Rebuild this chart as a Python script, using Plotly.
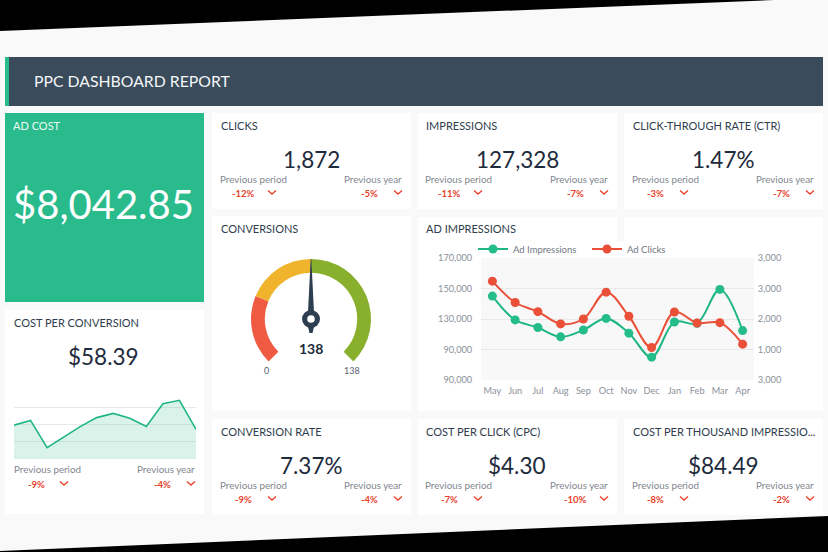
import plotly.graph_objects as go

W, H = 828, 552
FONT = "Lato"
GREEN = "#2abb8d"
LINE_GREEN = "#1fb684"
RED = "#ea4f37"
DELTA_RED = "#e8412a"
DARK = "#2f3d4d"
NUM = "#1d2b3d"
GREY = "#7f8790"
BG = "#f9f9f9"

months = ["May", "Jun", "Jul", "Aug", "Sep", "Oct", "Nov", "Dec", "Jan", "Feb", "Mar", "Apr"]
ad_impressions = [145000, 129400, 124400, 118300, 122800, 130400, 120700, 105000, 128000, 127200, 149400, 122400]
ad_clicks = [3240, 2540, 2240, 1840, 2000, 2880, 2090, 1065, 2230, 1870, 1880, 1175]
left_tick_vals = [90000, 110000, 130000, 150000, 170000]
left_tick_text = ["90,000", "90,000", "130,000", "150,000", "170,000"]
right_tick_vals = [0, 1000, 2000, 3000, 4000]
right_tick_text = ["3,000", "1,000", "2,000", "3,000", "3,000"]

cost_per_conv = [49, 56, 16.4, 32, 47, 60, 66, 59, 47, 80, 85, 43]
gauge_labels = ["low", "mid", "high", "rest"]
gauge_values = [34.5, 34.5, 69, 46]
gauge_colors = ["#ee5b42", "#f0b32c", "#89b02c", "rgba(0,0,0,0)"]

kpi_titles = ["CLICKS", "IMPRESSIONS", "CLICK-THROUGH RATE (CTR)",
              "CONVERSION RATE", "COST PER CLICK (CPC)", "COST PER THOUSAND IMPRESSIO..."]
kpi_values = ["1,872", "127,328", "1.47%", "7.37%", "$4.30", "$84.49"]
kpi_prev_period = ["-12%", "-11%", "-3%", "-9%", "-7%", "-8%"]
kpi_prev_year = ["-5%", "-7%", "-7%", "-4%", "-10%", "-2%"]
kpi_left = [212, 418, 624, 212, 418, 624]
kpi_top = [113, 113, 113, 419, 419, 419]


def px(x):
    return x / W


def py(y):
    return 1 - y / H


shapes = []
annotations = []


def rect(x0, y0, x1, y1, color, layer="below"):
    shapes.append(dict(type="rect", xref="paper", yref="paper", x0=px(x0), x1=px(x1),
                       y0=py(y1), y1=py(y0), fillcolor=color, line_width=0, layer=layer))


def text(x, y, s, size=10, color=DARK, anchor="left", weight="normal"):
    annotations.append(dict(xref="paper", yref="paper", x=px(x), y=py(y), text=s, showarrow=False,
                            xanchor=anchor, yanchor="middle", borderpad=0,
                            font=dict(family=FONT, size=size, color=color, weight=weight)))


def path_shape(points, stroke=None, fill=None, width=1.3, close=False):
    d = "M " + " L ".join(f"{px(a):.5f},{py(b):.5f}" for a, b in points) + (" Z" if close else "")
    shapes.append(dict(type="path", xref="paper", yref="paper", path=d, layer="above",
                       fillcolor=fill if fill else "rgba(0,0,0,0)",
                       line=dict(color=stroke if stroke else "rgba(0,0,0,0)", width=width if stroke else 0)))


def chevron(cx, cy):
    path_shape([(cx - 4, cy - 2), (cx, cy + 1.6), (cx + 4, cy - 2)], stroke=DELTA_RED)


def deltas(left, y_prev, y_delta, a, b):
    text(left + 6.5, y_prev, "Previous period", 9.8, GREY)
    text(left + 191, y_prev, "Previous year", 9.8, GREY, "right")
    text(left + 31, y_delta, a, 9.5, DELTA_RED, "center", "bold")
    chevron(left + 60, y_delta - 0.5)
    text(left + 157, y_delta, b, 9.5, DELTA_RED, "center", "bold")
    chevron(left + 186, y_delta - 0.5)


# page background polygon
shapes.append(dict(type="path", xref="paper", yref="paper", layer="below", fillcolor=BG, line_width=0,
                   path=f"M {px(0)},{py(31)} L {px(774)},{py(0)} L {px(828)},{py(0)} L {px(828)},{py(516)} L {px(0)},{py(551)} Z"))
# header
rect(5, 57, 823, 106, "#3a4b5b")
rect(5, 57, 9, 106, GREEN)
text(32.5, 81, "PPC DASHBOARD REPORT", 15.8, "#f4f6f7")
# ad cost
rect(5, 113, 204, 302, GREEN)
text(11.5, 125.5, "AD COST", 11, "#eafaf4")
text(103, 204, "$8,042.85", 40, "#ffffff", "center")

# kpi cards
for i in range(6):
    L, T = kpi_left[i], kpi_top[i]
    rect(L, T, L + 199, T + 96, "#ffffff")
    text(L + 7.5, T + 12.5, kpi_titles[i], 11)
    text(L + 99, T + 46, kpi_values[i], 22.5, NUM, "center")
    deltas(L, T + 65.5, T + 80, kpi_prev_period[i], kpi_prev_year[i])

# conversions card
rect(212, 216, 411, 411, "#ffffff")
text(219.5, 228.5, "CONVERSIONS", 11)
text(311, 348, "138", 14, NUM, "center", "bold")
text(266, 370.5, "0", 9, "#55606c", "center")
text(352, 370.5, "138", 9, "#55606c", "center")

# needle
needle = "#2d3e50"
path_shape([(310.7, 259), (311.3, 259), (314, 312), (308, 312)], fill=needle, close=True)
path_shape([(307.5, 325), (314.5, 325), (312.5, 333), (309.5, 333)], fill=needle, close=True)
shapes.append(dict(type="circle", xref="paper", yref="paper", layer="above",
                   x0=px(302), x1=px(320), y0=py(328), y1=py(310), fillcolor=needle, line_width=0))
shapes.append(dict(type="circle", xref="paper", yref="paper", layer="above",
                   x0=px(307.2), x1=px(314.8), y0=py(322.8), y1=py(315.2), fillcolor="#ffffff", line_width=0))

# ad impressions card
rect(418, 217, 823, 411, "#ffffff")
rect(617, 215, 624, 241, BG)
text(425.5, 228.5, "AD IMPRESSIONS", 11)
rect(481, 258, 754, 380, "#f8f8f8")

# cost per conversion card
rect(5, 310, 204, 514, "#ffffff")
text(12.5, 322.5, "COST PER CONVERSION", 11)
text(103, 356, "$58.39", 22.5, NUM, "center")
text(12.5, 469.5, "Previous period", 9.8, GREY)
text(196, 469.5, "Previous year", 9.8, GREY, "right")
text(36, 484, "-9%", 9.5, DELTA_RED, "center", "bold")
chevron(64, 483.5)
text(162, 484, "-4%", 9.5, DELTA_RED, "center", "bold")
chevron(191, 483.5)

fig = go.Figure()
fig.add_trace(go.Scatter(x=months, y=ad_impressions, name="Ad Impressions", mode="lines+markers",
                         line=dict(color=LINE_GREEN, width=2, shape="spline", smoothing=1),
                         marker=dict(color="#25bc8b", size=9), xaxis="x", yaxis="y"))
fig.add_trace(go.Scatter(x=months, y=ad_clicks, name="Ad Clicks", mode="lines+markers",
                         line=dict(color=RED, width=2, shape="spline", smoothing=1),
                         marker=dict(color=RED, size=9), xaxis="x", yaxis="y2"))
fig.add_trace(go.Scatter(x=months, y=cost_per_conv, mode="lines", fill="tozeroy", fillcolor="rgba(31,182,132,0.17)",
                         line=dict(color=LINE_GREEN, width=1.6), showlegend=False, xaxis="x2", yaxis="y3"))
fig.add_trace(go.Pie(labels=gauge_labels, values=gauge_values, sort=False, direction="clockwise", rotation=-135,
                     hole=0.77, textinfo="none", showlegend=False, hoverinfo="skip",
                     marker=dict(colors=gauge_colors, line=dict(width=0)),
                     domain=dict(x=[px(251), px(371)], y=[py(379), py(259)])))

tick_font = dict(family=FONT, size=9.2, color="#8a9099")
GRID = "#e8e8e8"
fig.update_layout(
    width=W, height=H, autosize=False, margin=dict(l=0, r=0, t=0, b=0, pad=0, autoexpand=False),
    paper_bgcolor="#000000", plot_bgcolor="rgba(0,0,0,0)", font=dict(family=FONT),
    shapes=shapes, annotations=annotations,
    legend=dict(orientation="h", x=px(473), y=py(249), xanchor="left", yanchor="middle",
                bgcolor="rgba(0,0,0,0)", itemwidth=30, entrywidth=69, entrywidthmode="pixels",
                font=dict(family=FONT, size=9.5, color="#6f7781")),
    xaxis=dict(domain=[px(481), px(754)], type="category", range=[-0.5, 11.5], anchor="y",
               showgrid=False, zeroline=False, showline=False, ticks="outside", ticklen=1,
               tickcolor="rgba(0,0,0,0)", tickfont=tick_font, tickangle=0),
    yaxis=dict(domain=[py(380.5), py(257.5)], range=[89700, 170300], anchor="x", tickvals=left_tick_vals,
               ticktext=left_tick_text, gridcolor=GRID, gridwidth=1, zeroline=False, showline=False,
               ticks="outside", ticklen=6, tickcolor="rgba(0,0,0,0)", tickfont=tick_font),
    yaxis2=dict(domain=[py(380.5), py(257.5)], range=[-15, 4015], anchor="x", overlaying="y", side="right",
                tickvals=right_tick_vals, ticktext=right_tick_text, showgrid=False, zeroline=False,
                showline=False, ticks="outside", ticklen=1, tickcolor="rgba(0,0,0,0)", tickfont=tick_font),
    xaxis2=dict(domain=[px(14), px(196)], type="category", range=[0, 11], anchor="y3",
                showticklabels=False, showgrid=False, zeroline=False, showline=False, ticks=""),
    yaxis3=dict(domain=[py(459.5), py(389.5)], range=[-0.7, 100.7], anchor="x2", tickvals=[0, 25, 50, 75, 100],
                showticklabels=False, gridcolor=GRID, gridwidth=1, zeroline=False, showline=False, ticks=""),
)

fig.write_html("out.html", config={"displayModeBar": False},
               post_script="document.body.style.margin='0';document.documentElement.style.background='#000';")
